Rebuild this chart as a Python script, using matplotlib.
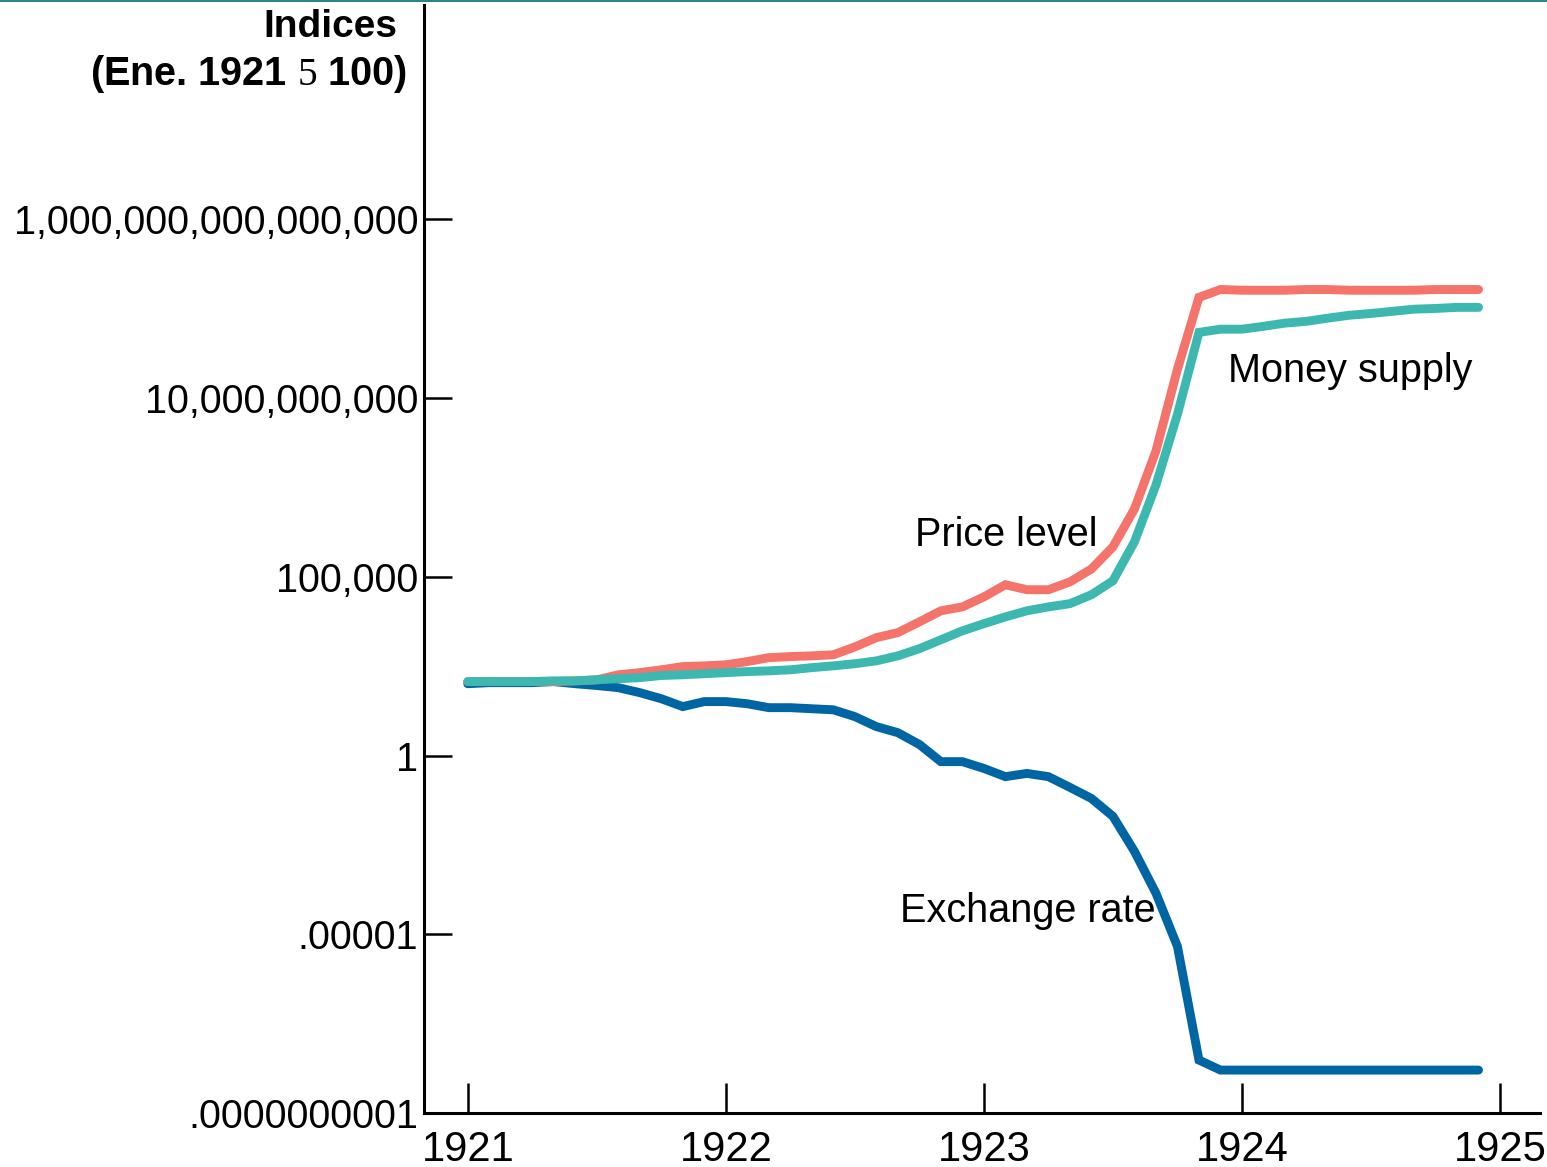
import numpy as np
import matplotlib
matplotlib.use("Agg")
import matplotlib.pyplot as plt
from matplotlib.lines import Line2D
from matplotlib.ticker import FixedLocator, FixedFormatter

plt.rcParams['font.family'] = ['Liberation Sans', 'DejaVu Sans']
plt.rcParams['mathtext.fontset'] = 'custom'
plt.rcParams['mathtext.rm'] = 'Liberation Serif'

# monthly, Jan 1921 .. Dec 1924; values as log10(index)
months = np.arange(48)
price_log10 = [2.07, 2.07, 2.07, 2.07, 2.07, 2.09, 2.12, 2.26, 2.32, 2.40,
               2.49, 2.51, 2.54, 2.63, 2.74, 2.77, 2.79, 2.82, 3.04, 3.30,
               3.44, 3.74, 4.05, 4.16, 4.44, 4.78, 4.64, 4.64, 4.86, 5.22,
               5.84, 6.90, 8.52, 10.81, 12.82, 13.04, 13.02, 13.02, 13.02, 13.04,
               13.04, 13.02, 13.02, 13.02, 13.02, 13.04, 13.04, 13.04]
money_log10 = [2.07, 2.07, 2.07, 2.07, 2.09, 2.09, 2.12, 2.15, 2.18, 2.24,
               2.26, 2.29, 2.32, 2.35, 2.37, 2.40, 2.46, 2.51, 2.57, 2.65,
               2.79, 2.99, 3.24, 3.49, 3.69, 3.88, 4.05, 4.16, 4.25, 4.50,
               4.89, 5.98, 7.57, 9.55, 11.84, 11.93, 11.93, 12.01, 12.10, 12.15,
               12.24, 12.32, 12.37, 12.43, 12.49, 12.51, 12.54, 12.54]
exch_log10 = [2.01, 2.04, 2.04, 2.04, 2.07, 2.01, 1.96, 1.90, 1.76, 1.59,
              1.37, 1.51, 1.51, 1.45, 1.34, 1.34, 1.31, 1.28, 1.09, 0.81,
              0.64, 0.31, -0.17, -0.17, -0.36, -0.59, -0.50, -0.59, -0.89, -1.20,
              -1.70, -2.68, -3.85, -5.34, -8.52, -8.80, -8.80, -8.80, -8.80, -8.80,
              -8.80, -8.80, -8.80, -8.80, -8.80, -8.80, -8.80, -8.80]

y_ticks = [1e-10, 1e-5, 1, 1e5, 1e10, 1e15]
y_labels = ['.0000000001', '.00001', '1', '100,000', '10,000,000,000',
            '1,000,000,000,000,000']
x_ticks = [1921, 1922, 1923, 1924, 1925]

red = '#F4736A'
teal = '#3CB8B0'
blue = '#0065A3'


def main():
    fig = plt.figure(figsize=(15.47, 11.67), dpi=100)
    ax = fig.add_axes([0.274, 0.0463, 0.7215, 0.9494])

    t = 1921 + months / 12.0
    lw = 6.4
    ax.plot(t, 10 ** np.array(exch_log10), color=blue, lw=lw,
            solid_capstyle='round', solid_joinstyle='miter')
    ax.plot(t, 10 ** np.array(price_log10), color=red, lw=lw,
            solid_capstyle='round', solid_joinstyle='miter')
    ax.plot(t, 10 ** np.array(money_log10), color=teal, lw=lw,
            solid_capstyle='round', solid_joinstyle='miter')

    ax.set_yscale('log')
    ax.set_ylim(1e-10, 1e21)
    ax.set_xlim(1920.83, 1925.155)

    ax.yaxis.set_major_locator(FixedLocator(y_ticks))
    ax.yaxis.set_major_formatter(FixedFormatter(y_labels))
    ax.yaxis.set_minor_locator(FixedLocator([]))
    ax.set_xticks(x_ticks)
    ax.set_xticklabels([str(x) for x in x_ticks])

    ax.tick_params(axis='y', direction='in', length=20, width=1.8,
                   labelsize=28.5, pad=4)
    ax.tick_params(axis='x', direction='in', length=21.5, width=1.8,
                   labelsize=30, pad=12)

    for s in ['top', 'right']:
        ax.spines[s].set_visible(False)
    for s in ['left', 'bottom']:
        ax.spines[s].set_linewidth(2.2)

    # series labels
    ax.text(1922.733, 10 ** 6.17, 'Price level', fontsize=28.5, va='center')
    ax.text(1923.946, 10 ** 10.75, 'Money supply', fontsize=28.5, va='center')
    ax.text(1922.674, 10 ** -4.36, 'Exchange rate', fontsize=28.5, va='center')

    # axis title
    fig.text(0.2566, 0.9769, 'Indices', fontsize=28, fontweight='bold',
             ha='right', va='center')
    fig.text(0.2631, 0.9366, r'(Ene. 1921 $\mathrm{5}$ 100)', fontsize=28.5,
             fontweight='bold', ha='right', va='center')

    # thin rule along the top edge
    fig.add_artist(Line2D([0, 1], [0.9992, 0.9992], transform=fig.transFigure,
                          color='#00706C', lw=1.2))

    fig.savefig('out.png', dpi=100)


if __name__ == "__main__":
    main()
